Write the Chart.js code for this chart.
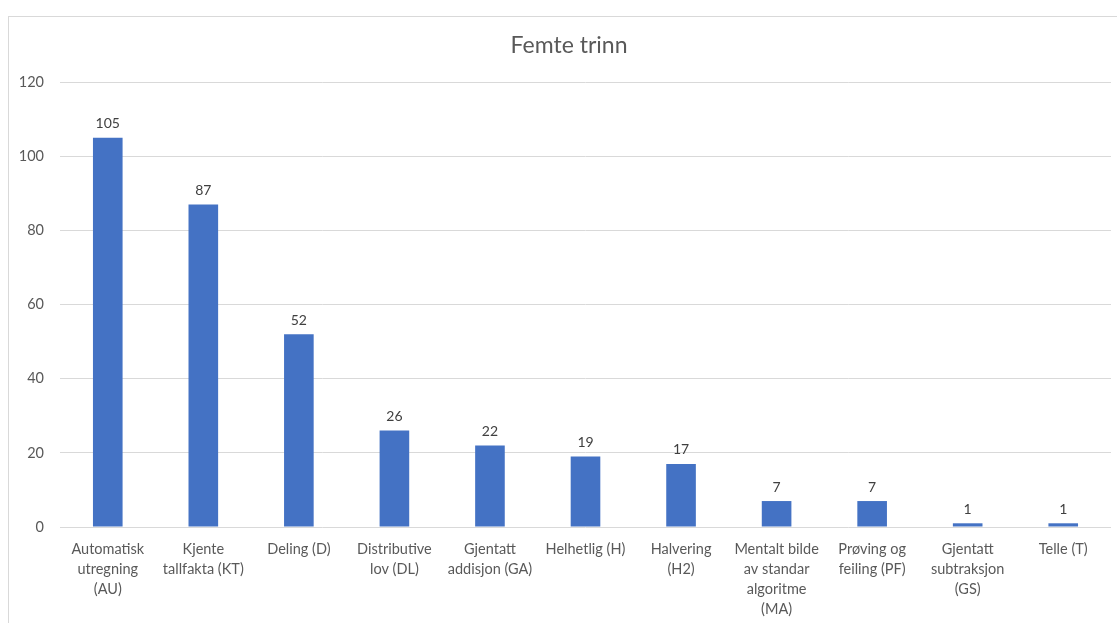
<!DOCTYPE html>
<html>
<head>
<meta charset="utf-8">
<script src="https://cdn.jsdelivr.net/npm/chart.js"></script>
<style>
  body { margin: 0; background: #fff; }
  #wrap { position: relative; width: 1117px; height: 623px; overflow: hidden; }
  #frame { position: absolute; left: 8px; top: 16px; width: 1130px; height: 640px; border: 1px solid #d9d9d9; }
  canvas { position: absolute; left: 0; top: 0; }
</style>
</head>
<body>
<div id="wrap">
  <div id="frame"></div>
  <canvas id="chart" width="1117" height="623"></canvas>
</div>
<script>
const categories = [
  ['Automatisk', 'utregning', '(AU)'],
  ['Kjente', 'tallfakta (KT)'],
  ['Deling (D)'],
  ['Distributive', 'lov (DL)'],
  ['Gjentatt', 'addisjon (GA)'],
  ['Helhetlig (H)'],
  ['Halvering', '(H2)'],
  ['Mentalt bilde', 'av standar', 'algoritme', '(MA)'],
  ['Prøving og', 'feiling (PF)'],
  ['Gjentatt', 'subtraksjon', '(GS)'],
  ['Telle (T)']
]
const counts = [105, 87, 52, 26, 22, 19, 17, 7, 7, 1, 1]
const yTicks = [0, 20, 40, 60, 80, 100, 120]
const chartTitle = 'Femte trinn'

const fontFamily = 'Lato, "Open Sans", sans-serif'
const textColor = '#595959'

// value labels above each bar, plus the title centred on the (cropped) frame
const barLabels = {
  id: 'barLabels',
  afterDatasetsDraw(chart) {
    const ctx = chart.ctx
    const meta = chart.getDatasetMeta(0)
    ctx.save()
    ctx.font = '14px ' + fontFamily
    ctx.fillStyle = '#404040'
    ctx.textAlign = 'center'
    ctx.textBaseline = 'bottom'
    meta.data.forEach((bar, i) => {
      ctx.fillText(counts[i], bar.x, bar.y - 7)
    })

    ctx.font = '23px ' + fontFamily
    ctx.fillStyle = textColor
    ctx.textBaseline = 'middle'
    ctx.fillText(chartTitle, 569, 46)
    ctx.restore()
  }
}

new Chart(document.getElementById('chart'), {
  type: 'bar',
  data: {
    labels: categories,
    datasets: [{
      label: chartTitle,
      data: counts,
      backgroundColor: '#4472C4',
      categoryPercentage: 1,
      barPercentage: 0.31
    }]
  },
  options: {
    responsive: false,
    animation: false,
    layout: { padding: { left: 0, right: 6, top: 82, bottom: 0 } },
    plugins: {
      legend: { display: false },
      tooltip: { enabled: false },
      title: { display: false }
    },
    scales: {
      x: {
        afterFit(scale) { scale.height = 96 },
        grid: { display: false },
        border: { display: false },
        ticks: {
          color: textColor,
          font: { family: fontFamily, size: 14.5, lineHeight: '20px' },
          padding: 4,
          maxRotation: 0,
          autoSkip: false
        }
      },
      y: {
        min: 0,
        max: 120,
        afterFit(scale) { scale.width = 60 },
        afterBuildTicks(scale) { scale.ticks = yTicks.map(v => ({ value: v })) },
        grid: { color: '#d9d9d9', drawTicks: false },
        border: { display: false },
        ticks: {
          color: textColor,
          font: { family: fontFamily, size: 14.5 },
          padding: 16
        }
      }
    }
  },
  plugins: [barLabels]
})
</script>
</body>
</html>
